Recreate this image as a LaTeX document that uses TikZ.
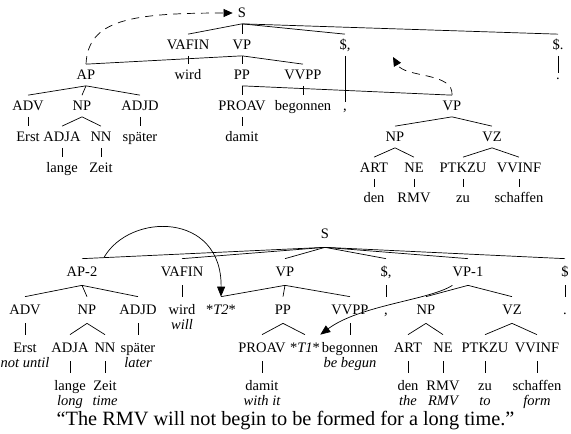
\documentclass[tikz,border=0pt]{standalone}
\usepackage{fontspec}
\setmainfont{Liberation Serif}
\usetikzlibrary{arrows.meta,calc}

\begin{document}
\begin{tikzpicture}[x=1pt, y=-1pt, line width=0.7pt,
    every node/.style={font=\fontsize{14.5pt}{16pt}\selectfont, inner sep=0pt, text height=10pt, text depth=0.5pt},
    cat/.style={minimum height=21pt},
    catb/.style={minimum height=26pt},
    gloss/.style={font=\fontsize{14.5pt}{16pt}\selectfont\itshape},
    moved/.style={dash pattern=on 8pt off 6pt, -{Triangle[length=9pt,width=8pt]}},
    trace/.style={-{Triangle[length=10pt,width=8pt]}}]
    \useasboundingbox (0,0) rectangle (571,434);

    % Top tree: labels
    \node[cat] (tS) at (242,13) {S};
    \node[cat] (tVAFIN) at (188,45) {VAFIN};
    \node[cat] (tVP) at (242,45) {VP};
    \node[cat] (tComma) at (345,45) {\$,};
    \node[cat] (tPeriod) at (558,45) {\$.};
    \node[cat] (tAP) at (86,75) {AP};
    \node[cat] (tWird) at (188,75) {wird};
    \node[cat] (tPP) at (242,75) {PP};
    \node[cat] (tVVPP) at (303,75) {VVPP};
    \node[cat] (tDot) at (558,75) {.};
    \node[cat] (tADV) at (28,106) {ADV};
    \node[cat] (tNP) at (82,106) {NP};
    \node[cat] (tADJD) at (140,106) {ADJD};
    \node[cat] (tPROAV) at (242,106) {PROAV};
    \node[cat] (tBegonnen) at (303,106) {begonnen};
    \node[cat] (tKomma) at (345,106) {,};
    \node[cat] (tVPz) at (452,106) {VP};
    \node[cat] (tErst) at (28,137) {Erst};
    \node[cat] (tADJA) at (62,137) {ADJA};
    \node[cat] (tNN) at (101,137) {NN};
    \node[cat] (tSpaeter) at (140,137) {später};
    \node[cat] (tDamit) at (242,137) {damit};
    \node[cat] (tNPz) at (395,137) {NP};
    \node[cat] (tVZ) at (492,137) {VZ};
    \node[cat] (tLange) at (62,168) {lange};
    \node[cat] (tZeit) at (101,168) {Zeit};
    \node[cat] (tART) at (374,168) {ART};
    \node[cat] (tNE) at (414,168) {NE};
    \node[cat] (tPTKZU) at (463,168) {PTKZU};
    \node[cat] (tVVINF) at (519,168) {VVINF};
    \node[cat] (tDen) at (374,198) {den};
    \node[cat] (tRMV) at (414,198) {RMV};
    \node[cat] (tZu) at (463,198) {zu};
    \node[cat] (tSchaffen) at (519,198) {schaffen};

    % Top tree: branches
    \foreach \c in {tVAFIN,tVP,tComma,tPeriod} \draw (tS.south) -- (\c.north);
    \foreach \c in {tAP,tPP,tVVPP} \draw (tVP.south) -- (\c.north);
    \foreach \c in {tADV,tNP,tADJD} \draw (tAP.south) -- (\c.north);
    \foreach \c in {tPROAV,tVPz} \draw (tPP.south) -- (\c.north);
    \foreach \c in {tADJA,tNN} \draw (tNP.south) -- (\c.north);
    \foreach \c in {tNPz,tVZ} \draw (tVPz.south) -- (\c.north);
    \foreach \c in {tART,tNE} \draw (tNPz.south) -- (\c.north);
    \foreach \c in {tPTKZU,tVVINF} \draw (tVZ.south) -- (\c.north);
    \draw[shorten >=-7pt] (tComma.south) -- (tKomma.north);
    \draw[shorten >=-9pt] (tPeriod.south) -- (tDot.north);
    \draw (tVAFIN.south) -- (tWird.north);
    \draw (tVVPP.south) -- (tBegonnen.north);
    \draw (tADV.south) -- (tErst.north);
    \draw (tADJD.south) -- (tSpaeter.north);
    \draw (tPROAV.south) -- (tDamit.north);
    \draw (tADJA.south) -- (tLange.north);
    \draw (tNN.south) -- (tZeit.north);
    \draw (tART.south) -- (tDen.north);
    \draw (tNE.south) -- (tRMV.north);
    \draw (tPTKZU.south) -- (tZu.north);
    \draw (tVVINF.south) -- (tSchaffen.north);

    % Top tree: dashed movement arrows
    \coordinate (tVPgoal) at (393,57);
    \draw[moved, shorten >=5pt] (tAP.north) .. controls (88,20) and (130,13) .. (tS.west);
    \draw[moved] (tVPz.north) .. controls (454,72) and (405,78) .. (tVPgoal);

    % Bottom tree: labels
    \node[catb] (bS) at (325,234) {S};
    \node[catb] (bAP) at (82,272) {AP-2};
    \node[catb] (bVAFIN) at (182,272) {VAFIN};
    \node[catb] (bVP) at (285,272) {VP};
    \node[catb] (bComma) at (386,272) {\$,};
    \node[catb] (bVPa) at (468,272) {VP-1};
    \node[catb] (bDollar) at (565,272) {\$};
    \node[catb] (bADV) at (25,310) {ADV};
    \node[catb] (bNP) at (87,310) {NP};
    \node[catb] (bADJD) at (138,310) {ADJD};
    \node[catb] (bWird) at (182,310) {wird};
    \node[catb] (bTzwei) at (221,310) {*\textit{T2}*};
    \node[catb] (bPP) at (283,310) {PP};
    \node[catb] (bVVPP) at (350,310) {VVPP};
    \node[catb] (bKomma) at (386,310) {,};
    \node[catb] (bNPz) at (426,310) {NP};
    \node[catb] (bVZ) at (512,310) {VZ};
    \node[catb] (bDot) at (565,310) {.};
    \node[catb] (bErst) at (25,348) {Erst};
    \node[catb] (bADJA) at (70,348) {ADJA};
    \node[catb] (bNN) at (105,348) {NN};
    \node[catb] (bSpaeter) at (138,348) {später};
    \node[catb] (bPROAV) at (262,348) {PROAV};
    \node[catb] (bTeins) at (305,348) {*\textit{T1}*};
    \node[catb] (bBegonnen) at (350,348) {begonnen};
    \node[catb] (bART) at (408,348) {ART};
    \node[catb] (bNE) at (443,348) {NE};
    \node[catb] (bPTKZU) at (485,348) {PTKZU};
    \node[catb] (bVVINF) at (537,348) {VVINF};
    \node[catb] (bLange) at (70,386) {lange};
    \node[catb] (bZeit) at (105,386) {Zeit};
    \node[catb] (bDamit) at (262,386) {damit};
    \node[catb] (bDen) at (408,386) {den};
    \node[catb] (bRMV) at (443,386) {RMV};
    \node[catb] (bZu) at (485,386) {zu};
    \node[catb] (bSchaffen) at (537,386) {schaffen};

    % Bottom tree: glosses
    \node[gloss] (gWill) at (182,325) {will};
    \node[gloss] (gErst) at (25,363) {not until};
    \node[gloss] (gSpaeter) at (138,363) {later};
    \node[gloss] (gBegonnen) at (350,363) {be begun};
    \node[gloss] (gLange) at (70,401) {long};
    \node[gloss] (gZeit) at (105,401) {time};
    \node[gloss] (gDamit) at (262,401) {with it};
    \node[gloss] (gDen) at (408,401) {the};
    \node[gloss] (gRMV) at (443,401) {RMV};
    \node[gloss] (gZu) at (485,401) {to};
    \node[gloss] (gSchaffen) at (537,401) {form};

    % Bottom tree: branches
    \foreach \c in {bAP,bVAFIN,bVP,bComma,bVPa,bDollar} \draw (bS.south) -- (\c.north);
    \foreach \c in {bADV,bNP,bADJD} \draw (bAP.south) -- (\c.north);
    \foreach \c in {bTzwei,bPP,bVVPP} \draw (bVP.south) -- (\c.north);
    \foreach \c in {bNPz,bVZ} \draw (bVPa.south) -- (\c.north);
    \foreach \c in {bADJA,bNN} \draw (bNP.south) -- (\c.north);
    \foreach \c in {bPROAV,bTeins} \draw (bPP.south) -- (\c.north);
    \foreach \c in {bART,bNE} \draw (bNPz.south) -- (\c.north);
    \foreach \c in {bPTKZU,bVVINF} \draw (bVZ.south) -- (\c.north);
    \draw (bVAFIN.south) -- (bWird.north);
    \draw (bComma.south) -- (bKomma.north);
    \draw (bDollar.south) -- (bDot.north);
    \draw (bADV.south) -- (bErst.north);
    \draw (bADJD.south) -- (bSpaeter.north);
    \draw (bVVPP.south) -- (bBegonnen.north);
    \draw (bADJA.south) -- (bLange.north);
    \draw (bNN.south) -- (bZeit.north);
    \draw (bPROAV.south) -- (bDamit.north);
    \draw (bART.south) -- (bDen.north);
    \draw (bNE.south) -- (bRMV.north);
    \draw (bPTKZU.south) -- (bZu.north);
    \draw (bVVINF.south) -- (bSchaffen.north);

    % Bottom tree: traces
    \coordinate (bAPedge) at ($(bAP.north)!0.09!(bS.south)$);
    \draw[trace] (bAPedge) .. controls (130,212) and (222,212) .. (bTzwei.north);
    \draw[trace] (bVPa.south west) .. controls (430,300) and (360,305) .. (bTeins.north east);

    % Translation
    \node[font=\fontsize{20.3pt}{24pt}\selectfont] (trans) at (285.5,421) {“The RMV will not begin to be formed for a long time.”};
\end{tikzpicture}
\end{document}
